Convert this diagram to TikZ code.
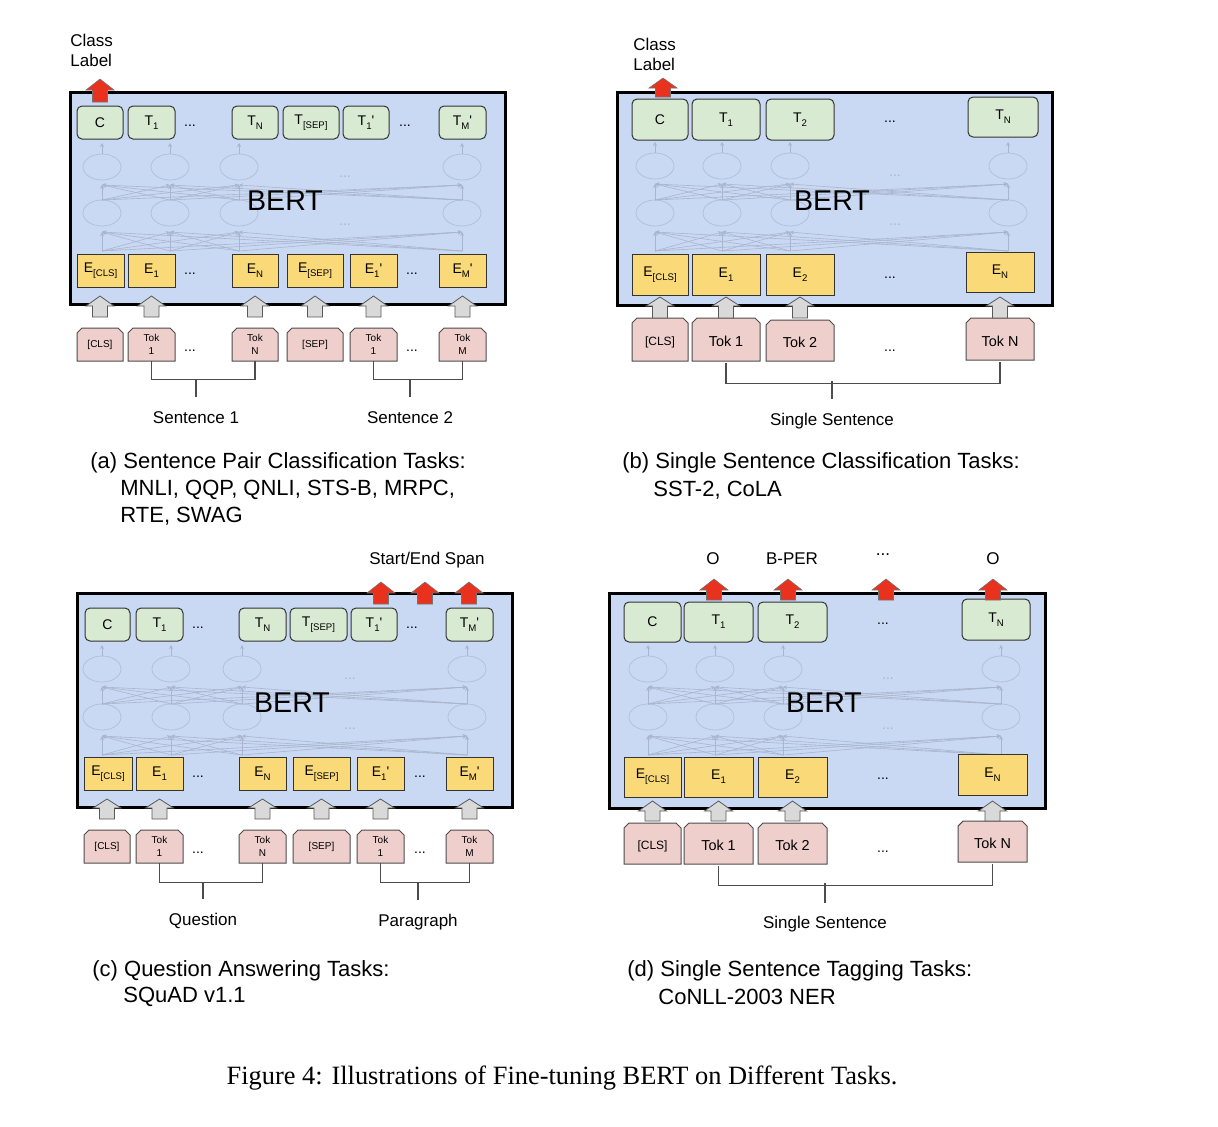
\documentclass[tikz,border=0pt]{standalone}
\usepackage{fontspec}
\setmainfont{Liberation Sans}
\newfontfamily\figcapfont{Liberation Serif}
\usetikzlibrary{calc,arrows.meta}
\definecolor{bertblue}{HTML}{C9D9F4}
\definecolor{tgreen}{HTML}{D9EAD3}
\definecolor{eyellow}{HTML}{F9D978}
\definecolor{tokpink}{HTML}{EECFCC}
\definecolor{redarrow}{HTML}{E8321E}
\definecolor{grayarrow}{HTML}{D9D9D9}
\definecolor{netgray}{HTML}{A9B5CC}
\definecolor{netellipse}{HTML}{B3C0D8}
\newcommand\sbx[1]{\raisebox{-0.55ex}{\fontsize{4.8}{5}\selectfont #1}}
\newcommand\prm{\textquotesingle}
\newcommand\bx[7]{\node[#2,minimum width={(#5-#3)*0.5pt},minimum height={(#6-#4)*0.5pt}] (#1) at ({(#3+#5)/2},{(#4+#6)/2}) {#7};}
\newcommand\tk[7]{\filldraw[tokshape] (#3,#6) -- (#3,#4+5) -- (#3+5,#4) -- (#5-5,#4) -- (#5,#4+5) -- (#5,#6) -- cycle;
  \node[tokstyle,#2,minimum width={(#5-#3)*0.5pt},minimum height={(#6-#4)*0.5pt}] (#1) at ({(#3+#5)/2},{(#4+#6)/2}) {#7};}
\newcommand\barr[5]{\filldraw[#1] let \p1=(#2), \p2=(0,#3), \p3=(0,#4), \p4=(0,#5) in
  (\x1-3.75pt,\y4) -- (\x1-3.75pt,\y3) -- (\x1-7pt,\y3) -- (\x1,\y2) -- (\x1+7pt,\y3) -- (\x1+3.75pt,\y3) -- (\x1+3.75pt,\y4) -- cycle;}
\newcommand\net[8]{%
  \foreach \cx in {#1,#2,#3,#4}{
    \draw[netline] (\cx,#5) ellipse (9.5pt and 6.5pt);
    \draw[netline] (\cx,#6) ellipse (9.5pt and 6.5pt);
    \draw[netarr] (\cx,#5-13) -- (\cx,#5-24);
    \foreach \cy in {#1,#2,#3,#4}{
      \draw[netarr] (\cx,#6-13) -- (\cy,#5+18);
      \draw[netarr] (\cx,#6+38) -- (\cy,#6+19);
    }
  }
  \node[netdots] (#8-nd1) at (#7,#5+10) {...};
  \node[netdots] (#8-nd2) at (#7,#6+12) {...};
}
\tikzset{
 bertbox/.style={draw=black,line width=1.5pt,fill=bertblue},
 tbox/.style={draw=black!80,fill=tgreen,rounded corners=2.5pt,line width=0.5pt,inner sep=0pt,font=\fontsize{7}{8}\selectfont},
 ebox/.style={draw=black!80,fill=eyellow,line width=0.5pt,inner sep=0pt,font=\fontsize{7}{8}\selectfont},
 tokshape/.style={draw=black!70,fill=tokpink,line width=0.5pt},
 tokstyle/.style={inner sep=0pt,align=center},
 fsmall/.style={font=\fontsize{5}{6.5}\selectfont},
 fmid/.style={font=\fontsize{6}{7}\selectfont,text depth=0pt,yshift=-1pt},
 fbig/.style={font=\fontsize{7.2}{8}\selectfont,yshift=-1pt},
 dotlbl/.style={font=\fontsize{7}{8}\selectfont,inner sep=0pt},
 netline/.style={draw=netellipse,line width=0.4pt},
 netarr/.style={draw=netgray,line width=0.3pt,-{Stealth[length=2pt,width=2pt]}},
 netdots/.style={text=netgray,font=\fontsize{7}{8}\selectfont,inner sep=0pt},
 berttext/.style={font=\fontsize{14.3}{16}\selectfont,inner sep=0pt},
 redarr/.style={fill=redarrow,draw=black!55,line width=0.3pt},
 grayarr/.style={fill=grayarrow,draw=black!65,line width=0.4pt},
 brk/.style={draw=black!70,line width=0.6pt},
 lbl/.style={font=\fontsize{8.5}{10}\selectfont,inner sep=0pt,yshift=-1pt},
 captext/.style={font=\fontsize{11}{13}\selectfont,inner sep=0pt,anchor=west,yshift=-1.5pt},
}
\begin{document}
\begin{tikzpicture}[x=0.5pt,y=-0.5pt]
\useasboundingbox (0,0) rectangle (1218,1126);
% ================= (a) =================
\node[lbl,anchor=west] (a-cl1) at (70,38) {Class};
\node[lbl,anchor=west] (a-cl2) at (70,58) {Label};
\draw[bertbox] (70,92) rectangle (505,304);
\net{102}{170}{239}{462}{167}{213}{345}{a}
\node[berttext] (a-bert) at (285,201) {BERT};
\bx{a-c}{tbox}{77}{106}{123}{139}{C}
\bx{a-t1}{tbox}{128}{106}{175}{139}{T\sbx{1}}
\node[dotlbl] (a-td1) at (190,126) {...};
\bx{a-tn}{tbox}{232}{106}{278}{139}{T\sbx{N}}
\bx{a-tsep}{tbox}{283}{106}{339}{139}{T\sbx{[SEP]}}
\bx{a-t1p}{tbox}{343}{106}{389}{139}{T\sbx{1}\prm}
\node[dotlbl] (a-td2) at (405,126) {...};
\bx{a-tm}{tbox}{439}{106}{486}{139}{T\sbx{M}\prm}
\bx{a-ecls}{ebox}{77}{254}{124}{287}{E\sbx{[CLS]}}
\bx{a-e1}{ebox}{128}{254}{175}{287}{E\sbx{1}}
\node[dotlbl] (a-ed1) at (190,274) {...};
\bx{a-en}{ebox}{232}{254}{278}{287}{E\sbx{N}}
\bx{a-esep}{ebox}{287}{254}{343}{287}{E\sbx{[SEP]}}
\bx{a-e1p}{ebox}{350}{254}{397}{287}{E\sbx{1}\prm}
\node[dotlbl] (a-ed2) at (412,274) {...};
\bx{a-em}{ebox}{439}{254}{486}{287}{E\sbx{M}\prm}
\barr{redarr}{a-c.center}{79}{90}{102}
\tk{a-kcls}{fsmall}{77}{328}{123}{361}{[CLS]}
\tk{a-k1}{fsmall}{128}{328}{175}{361}{Tok\\1}
\node[dotlbl] (a-kd1) at (190,351) {...};
\tk{a-kn}{fsmall}{232}{328}{278}{361}{Tok\\N}
\tk{a-ksep}{fsmall}{287}{328}{343}{361}{[SEP]}
\tk{a-k1p}{fsmall}{350}{328}{397}{361}{Tok\\1}
\node[dotlbl] (a-kd2) at (412,351) {...};
\tk{a-km}{fsmall}{439}{328}{486}{361}{Tok\\M}
\foreach \nd in {a-kcls,a-k1,a-kn,a-ksep,a-k1p,a-km}{\barr{grayarr}{\nd.center}{296}{306}{317}}
\node[lbl] (a-s1) at (196,416) {Sentence 1};
\node[lbl] (a-s2) at (410,416) {Sentence 2};
\draw[brk] (a-k1.south) -- ++(0,18) -| (a-kn.south);
\draw[brk] (a-s1 |- 0,379) -- (a-s1 |- 0,397);
\draw[brk] (a-k1p.south) -- ++(0,18) -| (a-km.south);
\draw[brk] (a-s2 |- 0,379) -- (a-s2 |- 0,397);
\node[captext] (a-cap1) at (90,460) {(a) Sentence Pair Classification Tasks:};
\node[captext] (a-cap2) at (120,487) {MNLI, QQP, QNLI, STS-B, MRPC,};
\node[captext] (a-cap3) at (120,513) {RTE, SWAG};
% ================= (b) =================
\node[lbl,anchor=west] (b-cl1) at (633,42) {Class};
\node[lbl,anchor=west] (b-cl2) at (633,62) {Label};
\draw[bertbox] (617,92) rectangle (1052,305);
\net{655}{722}{790}{1008}{166}{213}{895}{b}
\node[berttext] (b-bert) at (832,201) {BERT};
\bx{b-c}{tbox}{632}{99}{688}{140}{C}
\bx{b-t1}{tbox}{692}{99}{760}{140}{T\sbx{1}}
\bx{b-t2}{tbox}{766}{99}{834}{140}{T\sbx{2}}
\node[dotlbl] (b-td) at (890,122) {...};
\bx{b-tn}{tbox}{968}{97}{1038}{137}{T\sbx{N}}
\bx{b-ecls}{ebox}{632}{254}{688}{295}{E\sbx{[CLS]}}
\bx{b-e1}{ebox}{692}{254}{760}{295}{E\sbx{1}}
\bx{b-e2}{ebox}{766}{254}{834}{295}{E\sbx{2}}
\node[dotlbl] (b-ed) at (890,278) {...};
\bx{b-en}{ebox}{966}{252}{1034}{292}{E\sbx{N}}
\barr{redarr}{663,0}{78}{88}{97}
\tk{b-kcls}{fmid}{632}{318}{688}{361}{[CLS]}
\tk{b-k1}{fbig}{692}{318}{760}{361}{Tok 1}
\tk{b-k2}{fbig}{766}{320}{834}{361}{Tok 2}
\node[dotlbl] (b-kd) at (890,351) {...};
\tk{b-kn}{fbig}{966}{318}{1034}{360}{Tok N}
\foreach \nd in {b-kcls,b-k1,b-k2,b-kn}{\barr{grayarr}{\nd.center}{297}{306}{318}}
\node[lbl] (b-s) at (832,419) {Single Sentence};
\draw[brk] (b-k1.south) -- ++(0,20) -| (b-kn.south);
\draw[brk] (b-s |- 0,381) -- (b-s |- 0,399);
\node[captext] (b-cap1) at (622,460) {(b) Single Sentence Classification Tasks:};
\node[captext] (b-cap2) at (653,487) {SST-2, CoLA};
% ================= (c) =================
\node[lbl] (c-span) at (427,558) {Start/End Span};
\draw[bertbox] (77,593) rectangle (512,807);
\net{102}{171}{242}{467}{669}{717}{350}{c}
\node[berttext] (c-bert) at (292,703) {BERT};
\bx{c-c}{tbox}{85}{608}{130}{641}{C}
\bx{c-t1}{tbox}{136}{608}{183}{641}{T\sbx{1}}
\node[dotlbl] (c-td1) at (198,628) {...};
\bx{c-tn}{tbox}{239}{608}{286}{641}{T\sbx{N}}
\bx{c-tsep}{tbox}{290}{608}{347}{641}{T\sbx{[SEP]}}
\bx{c-t1p}{tbox}{351}{608}{397}{641}{T\sbx{1}\prm}
\node[dotlbl] (c-td2) at (412,628) {...};
\bx{c-tm}{tbox}{446}{608}{493}{641}{T\sbx{M}\prm}
\bx{c-ecls}{ebox}{84}{757}{132}{790}{E\sbx{[CLS]}}
\bx{c-e1}{ebox}{136}{757}{183}{790}{E\sbx{1}}
\node[dotlbl] (c-ed1) at (198,777) {...};
\bx{c-en}{ebox}{239}{757}{286}{790}{E\sbx{N}}
\bx{c-esep}{ebox}{293}{757}{350}{790}{E\sbx{[SEP]}}
\bx{c-e1p}{ebox}{357}{757}{404}{790}{E\sbx{1}\prm}
\node[dotlbl] (c-ed2) at (420,777) {...};
\bx{c-em}{ebox}{446}{757}{493}{790}{E\sbx{M}\prm}
\barr{redarr}{381,0}{582}{593}{604}
\barr{redarr}{425,0}{582}{593}{604}
\barr{redarr}{469,0}{582}{593}{604}
\tk{c-kcls}{fsmall}{84}{830}{130}{863}{[CLS]}
\tk{c-k1}{fsmall}{136}{830}{183}{863}{Tok\\1}
\node[dotlbl] (c-kd1) at (198,853) {...};
\tk{c-kn}{fsmall}{239}{830}{286}{863}{Tok\\N}
\tk{c-ksep}{fsmall}{293}{830}{350}{863}{[SEP]}
\tk{c-k1p}{fsmall}{357}{830}{404}{863}{Tok\\1}
\node[dotlbl] (c-kd2) at (420,853) {...};
\tk{c-km}{fsmall}{446}{830}{493}{863}{Tok\\M}
\foreach \nd in {c-kcls,c-k1,c-kn,c-ksep,c-k1p,c-km}{\barr{grayarr}{\nd.center}{799}{808}{819}}
\node[lbl] (c-q) at (203,919) {Question};
\node[lbl] (c-p) at (418,920) {Paragraph};
\draw[brk] (c-k1.south) -- ++(0,19) -| (c-kn.south);
\draw[brk] (c-q |- 0,882) -- (c-q |- 0,899);
\draw[brk] (c-k1p.south) -- ++(0,19) -| (c-km.south);
\draw[brk] (c-p |- 0,882) -- (c-p |- 0,900);
\node[captext] (c-cap1) at (92,968) {(c) Question Answering Tasks:};
\node[captext] (c-cap2) at (123,994) {SQuAD v1.1};
% ================= (d) =================
\node[lbl] (d-o1) at (713,557) {O};
\node[lbl] (d-bper) at (792,557) {B-PER};
\node[lbl] (d-ld) at (883,553) {...};
\node[lbl] (d-o2) at (993,557) {O};
\draw[bertbox] (609,593) rectangle (1045,808);
\net{648}{715}{783}{1001}{669}{717}{888}{d}
\node[berttext] (d-bert) at (824,703) {BERT};
\bx{d-c}{tbox}{624}{602}{681}{642}{C}
\bx{d-t1}{tbox}{684}{602}{753}{642}{T\sbx{1}}
\bx{d-t2}{tbox}{758}{602}{827}{642}{T\sbx{2}}
\node[dotlbl] (d-td) at (883,624) {...};
\bx{d-tn}{tbox}{962}{599}{1030}{640}{T\sbx{N}}
\bx{d-ecls}{ebox}{624}{757}{681}{797}{E\sbx{[CLS]}}
\bx{d-e1}{ebox}{684}{757}{753}{797}{E\sbx{1}}
\bx{d-e2}{ebox}{758}{757}{827}{797}{E\sbx{2}}
\node[dotlbl] (d-ed) at (883,779) {...};
\bx{d-en}{ebox}{958}{754}{1027}{795}{E\sbx{N}}
\barr{redarr}{714,0}{579}{590}{600}
\barr{redarr}{788,0}{579}{590}{600}
\barr{redarr}{886,0}{579}{590}{600}
\barr{redarr}{993,0}{579}{590}{600}
\tk{d-kcls}{fmid}{624}{823}{681}{864}{[CLS]}
\tk{d-k1}{fbig}{684}{823}{753}{864}{Tok 1}
\tk{d-k2}{fbig}{758}{823}{827}{864}{Tok 2}
\node[dotlbl] (d-kd) at (883,852) {...};
\tk{d-kn}{fbig}{958}{821}{1027}{862}{Tok N}
\foreach \nd in {d-kcls,d-k1,d-k2,d-kn}{\barr{grayarr}{\nd.center}{801}{811}{821}}
\node[lbl] (d-s) at (825,922) {Single Sentence};
\draw[brk] (d-k1.south) -- ++(0,19) -| (d-kn.south);
\draw[brk] (d-s |- 0,883) -- (d-s |- 0,903);
\node[captext] (d-cap1) at (627,968) {(d) Single Sentence Tagging Tasks:};
\node[captext] (d-cap2) at (658,994) {CoNLL-2003 NER};
% ================= caption =================
\node[font=\figcapfont\fontsize{13.2}{15}\selectfont,inner sep=0pt,yshift=-1.5pt] (figcap) at (562,1075) {Figure 4: Illustrations of Fine-tuning BERT on Different Tasks.};
\end{tikzpicture}
\end{document}
